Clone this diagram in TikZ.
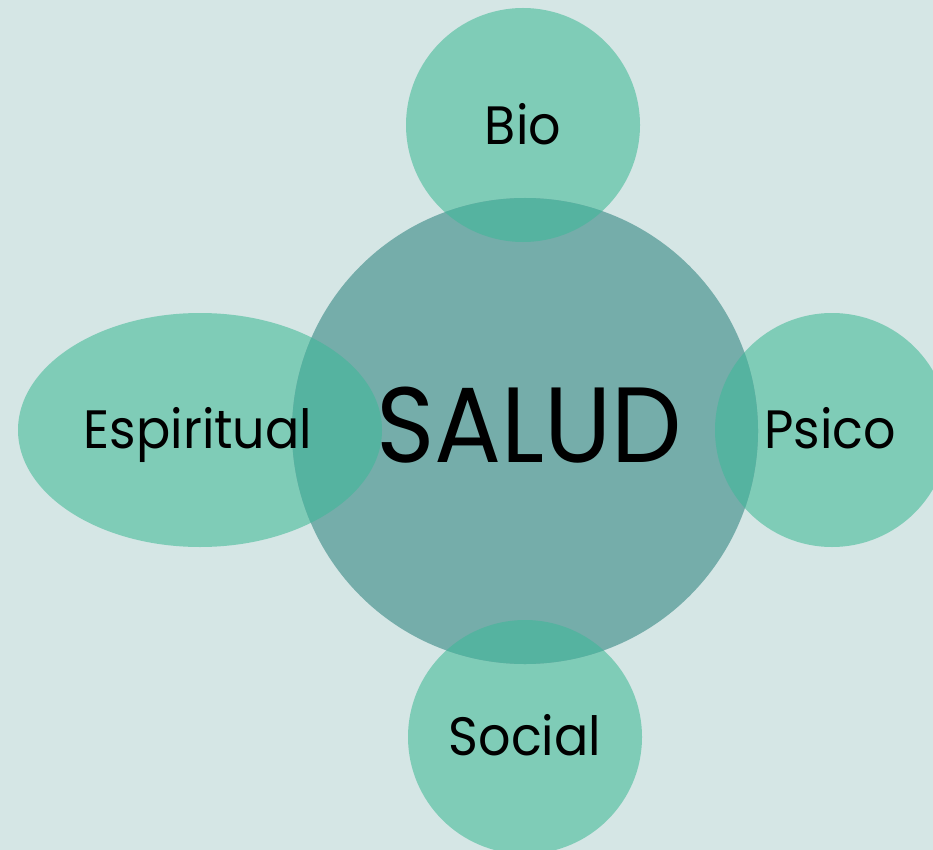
\documentclass[tikz,border=0pt]{standalone}
\usepackage{fontspec}
\setmainfont{Poppins}
\definecolor{bgc}{HTML}{D5E6E5}
\definecolor{outc}{HTML}{7FCCB7}
\definecolor{cenc}{HTML}{75ADAA}
\definecolor{ovc}{HTML}{55B3A0}
\tikzset{
  lab/.style={anchor=base,inner sep=0pt,xscale=0.94,font=\fontsize{54}{56}\selectfont},
}
\begin{document}
\begin{tikzpicture}[x=1pt,y=-1pt]
\fill[bgc] (0,0) rectangle (933,850);
\useasboundingbox (0,0) rectangle (933,850);
\begin{scope}
\clip (0,0) rectangle (933,850);
\fill[outc] (523,125) circle (117);
\fill[outc] (832,430) circle (117);
\fill[outc] (525,737) circle (117);
\fill[outc] (200,430) ellipse [x radius=182, y radius=117];
\fill[cenc] (525,431) circle (233);
\begin{scope}
\clip (525,431) circle (233);
\fill[ovc] (523,125) circle (117);
\fill[ovc] (832,430) circle (117);
\fill[ovc] (525,737) circle (117);
\fill[ovc] (200,430) ellipse [x radius=182, y radius=117];
\end{scope}
\end{scope}
\node[anchor=base,inner sep=0pt,xscale=0.93,font=\fontsize{107}{110}\selectfont] (salud) at (529,462) {SALUD};
\node[lab] (bio) at (523,145) {Bio};
\node[lab] (esp) at (198,448) {Espiritual};
\node[lab] (psi) at (830,448) {Psico};
\node[lab] (soc) at (525,755) {Social};
\end{tikzpicture}
\end{document}
